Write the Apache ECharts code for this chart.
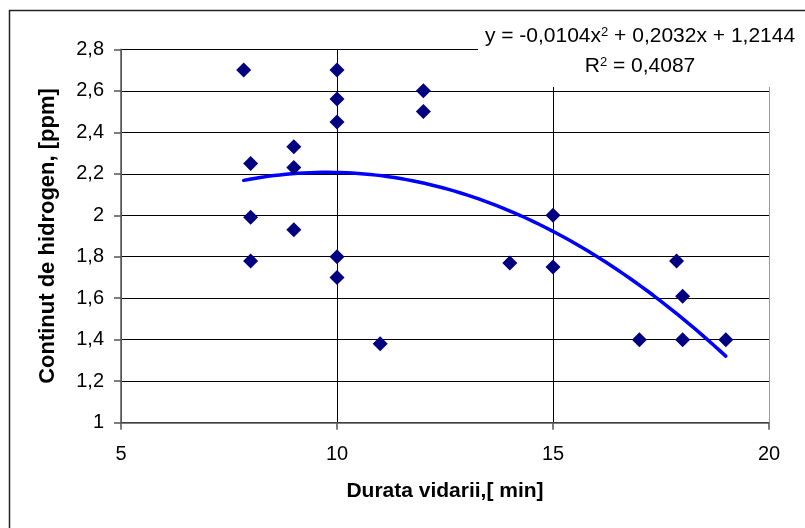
<!DOCTYPE html>
<html>
<head>
<meta charset="utf-8">
<script src="https://cdn.jsdelivr.net/npm/echarts@6/dist/echarts.min.js"></script>
<style>
html,body{margin:0;padding:0;background:#fff;}
#chart{width:805px;height:528px;}
</style>
</head>
<body>
<div id="chart"></div>
<script>
// Measured points: durata vidarii [min]
var durata = [7.84, 8, 8, 8, 9, 9, 9, 10, 10, 10, 10, 10, 11, 12, 12, 14, 15, 15, 17, 17.86, 18, 18, 19];
// Continut de hidrogen [ppm]
var hidrogen = [2.70, 2.25, 1.99, 1.78, 2.33, 2.23, 1.93, 2.70, 2.56, 2.45, 1.80, 1.70, 1.38, 2.60, 2.50, 1.77, 2.00, 1.75, 1.40, 1.78, 1.61, 1.40, 1.40];
// Polynomial trendline coefficients as shown on the chart (a, b, c)
var trendCoef = [-0.0104, 0.2032, 1.2144];
var trendRange = [7.84, 19];
var xTicks = [5, 10, 15, 20];
var yTicks = [1, 1.2, 1.4, 1.6, 1.8, 2, 2.2, 2.4, 2.6, 2.8];
var eqLabel = 'y = -0,0104x{sup|2} + 0,2032x + 1,2144';
var r2Label = 'R{sup|2} = 0,4087';

var pts = durata.map(function (x, i) { return [x, hidrogen[i]]; });
var trend = [];
var n = 80;
for (var i = 0; i <= n; i++) {
  var x = trendRange[0] + (trendRange[1] - trendRange[0]) * i / n;
  trend.push([x, trendCoef[0] * x * x + trendCoef[1] * x + trendCoef[2]]);
}
function fmt(v) { return String(Number(v.toFixed(1))).replace('.', ','); }

var FONT = '"Liberation Sans", Arial, sans-serif';
var richEq = {sup: {fontFamily: FONT, fontSize: 13, verticalAlign: 'top', lineHeight: 13, fill: '#000'}};
var chart = echarts.init(document.getElementById('chart'), null, {renderer: 'canvas'});
chart.setOption({
  animation: false,
  backgroundColor: '#fff',
  grid: {left: 121, right: 36, top: 49.3, bottom: 105.3, containLabel: false},
  xAxis: {
    type: 'value', min: xTicks[0], max: xTicks[xTicks.length - 1], interval: 5,
    name: 'Durata vidarii,[ min]', nameLocation: 'middle', nameGap: 58,
    nameTextStyle: {fontFamily: FONT, fontSize: 21, fontWeight: 'bold', color: '#000'},
    axisLine: {show: true, lineStyle: {color: '#555', width: 1.5}},
    axisTick: {show: true, inside: false, length: 7, lineStyle: {color: '#555', width: 1.5}},
    axisLabel: {fontFamily: FONT, fontSize: 20, color: '#000', margin: 22},
    splitLine: {show: true, lineStyle: {color: ['#555', '#000', '#000', '#999'], width: 1}}
  },
  yAxis: {
    type: 'value', min: yTicks[0], max: yTicks[yTicks.length - 1], interval: 0.2,
    name: 'Continut de hidrogen, [ppm]', nameLocation: 'middle', nameGap: 62, nameRotate: 90,
    nameTextStyle: {fontFamily: FONT, fontSize: 22, fontWeight: 'bold', color: '#000'},
    axisLine: {show: true, lineStyle: {color: '#555', width: 1.5}},
    axisTick: {show: true, inside: false, length: 7, lineStyle: {color: '#555', width: 1.5}},
    axisLabel: {fontFamily: FONT, fontSize: 20, color: '#000', margin: 17, formatter: fmt},
    splitLine: {show: true, lineStyle: {color: '#000', width: 1}}
  },
  series: [
    {
      type: 'line', data: trend, showSymbol: false, smooth: false,
      lineStyle: {color: '#0000ff', width: 3.5, cap: 'round'}, z: 2, silent: true
    },
    {
      type: 'scatter', data: pts, symbol: 'diamond', symbolSize: 15,
      itemStyle: {color: '#000080', opacity: 1}, z: 3
    }
  ],
  graphic: [
    {type: 'rect', z: 100, shape: {x: 478, y: 11, width: 330, height: 76}, style: {fill: '#fff'}},
    {type: 'rect', z: 101, shape: {x: 9.5, y: 10.5, width: 820, height: 540}, style: {fill: 'none', stroke: '#222', lineWidth: 1.5}},
    {type: 'text', z: 102, style: {text: eqLabel, rich: richEq, x: 640, y: 36, textAlign: 'center', textVerticalAlign: 'middle', font: '21px ' + FONT, fill: '#000'}},
    {type: 'text', z: 102, style: {text: r2Label, rich: richEq, x: 640, y: 66, textAlign: 'center', textVerticalAlign: 'middle', font: '21px ' + FONT, fill: '#000'}}
  ]
});
</script>
</body>
</html>
